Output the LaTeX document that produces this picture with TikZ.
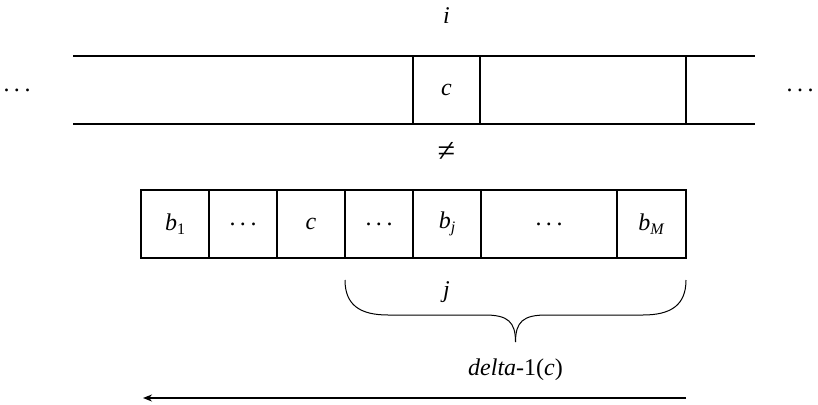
\documentclass[tikz,border=0pt]{standalone}
\usepackage{fontspec}
\setmainfont{Liberation Serif}
\usetikzlibrary{arrows.meta}
\newcommand{\mysub}[1]{\raisebox{-0.4ex}{\fontsize{16}{18}\selectfont #1}}
\newcommand{\mydots}{.\hspace{4.5pt}.\hspace{4.5pt}.}
\begin{document}
\begin{tikzpicture}[x=1pt,y=-1pt,
  every node/.style={font=\fontsize{24}{28}\selectfont},
  rule/.style={line width=1.4pt},
  cell/.style={draw,line width=1.4pt,minimum height=68pt,inner sep=0pt,anchor=center},
  bracestyle/.style={line width=1pt}]
\useasboundingbox (0,0) rectangle (818,404);
% top row
\coordinate (tl) at (73,56); \coordinate (tr) at (755,56);
\coordinate (bl) at (73,124); \coordinate (br) at (755,124);
\draw[rule] (tl) -- (tr);
\draw[rule] (bl) -- (br);
\node[cell,minimum width=67pt] (topc) at (446.5,90) {\textit{c}};
\coordinate (v1) at (686,56); \coordinate (v2) at (686,124);
\draw[rule] (v1) -- (v2);
\node (ilab) at (446.5,16) {\textit{i}};
\node (ldots) at (17,90) {\mydots};
\node (rdots) at (800,90) {\mydots};
\node[font=\fontsize{32}{36}\selectfont] (neq) at (446.5,152) {≠};
% lower row
\node[cell,minimum width=68pt] (b1) at (175,224) {\textit{b}\mysub{1}};
\node[cell,minimum width=68pt] (d1) at (243,224) {\mydots};
\node[cell,minimum width=68pt] (cc) at (311,224) {\textit{c}};
\node[cell,minimum width=68pt] (d2) at (379,224) {\mydots};
\node[cell,minimum width=68pt] (bj) at (447,224) {\textit{b}\mysub{\textit{j}}};
\node[cell,minimum width=136pt] (d3) at (549,224) {\mydots};
\node[cell,minimum width=69pt] (bM) at (651.5,224) {\textit{b}\mysub{\textit{M}}};
% brace
\coordinate (bra) at (345,280);
\coordinate (brb) at (686,280);
\coordinate (tip) at (515.5,342);
\draw[bracestyle] (bra) .. controls (345,305) and (360,315) .. (388,315) -- (485,315)
   .. controls (508,315) and (515.5,322) .. (tip);
\draw[bracestyle] (brb) .. controls (686,305) and (671,315) .. (643,315) -- (546,315)
   .. controls (523,315) and (515.5,322) .. (tip);
\node (jlab) at (446.5,292) {\textit{j}};
\node (dlab) at (515.5,370) {\textit{delta-}1(\textit{c})};
% arrow
\coordinate (as) at (686,398);
\coordinate (ae) at (143,398);
\draw[line width=1.4pt,-{Stealth[length=9pt,width=7pt]}] (as) -- (ae);
\end{tikzpicture}
\end{document}
